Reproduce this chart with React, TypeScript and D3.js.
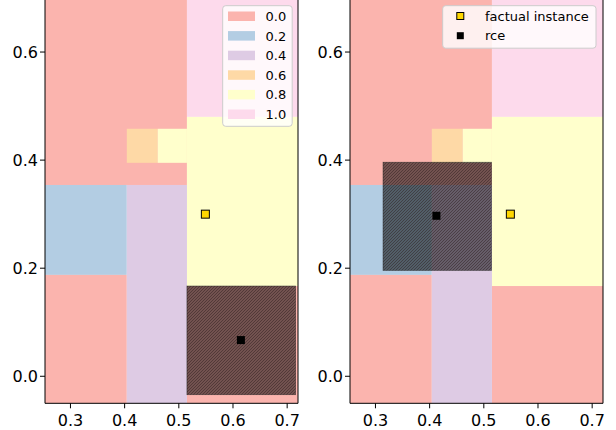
import React from "react";
import * as d3 from "d3";

// Decision regions: [x0, x1, y0, y1, class value]; later ones are drawn on top
const regions: [number, number, number, number, number][] = [
  [0.2, 0.515, 0.354, 0.8, 0.0],
  [0.404, 0.461, 0.395, 0.458, 0.6],
  [0.461, 0.515, 0.395, 0.458, 0.8],
  [0.515, 0.8, 0.48, 0.8, 1.0],
  [0.515, 0.8, 0.167, 0.48, 0.8],
  [0.515, 0.8, -0.1, 0.167, 0.0],
  [0.2, 0.404, 0.1876, 0.354, 0.2],
  [0.2, 0.404, -0.1, 0.1876, 0.0],
  [0.404, 0.515, -0.1, 0.354, 0.4],
];

const classValues = [0.0, 0.2, 0.4, 0.6, 0.8, 1.0];
const classColors = ["#fbb4ae", "#b3cde3", "#decbe4", "#fed9a6", "#ffffcc", "#fddaec"];

const xTicks = [0.3, 0.4, 0.5, 0.6, 0.7];
const yTicks = [0.0, 0.2, 0.4, 0.6];

const factual: [number, number] = [0.549, 0.3];
// panel 1 and panel 2 counterfactual explanations
const rcePoints: [number, number][] = [
  [0.6146, 0.067],
  [0.4125, 0.297],
];
// hatched boxes [x0, x1, y0, y1]
const rceBoxes: [number, number, number, number][] = [
  [0.515, 0.7155, -0.034, 0.167],
  [0.314, 0.514, 0.196, 0.396],
];

const xDomain: [number, number] = [0.253, 0.72];
const yDomain: [number, number] = [-0.05, 0.7];

const FONT = "DejaVu Sans, sans-serif";

function Panel({ left, idx }: { left: number; idx: number }) {
  const width = 253;
  const x = d3.scaleLinear().domain(xDomain).range([left, left + width]);
  const y = d3.scaleLinear().domain(yDomain).range([403.3, -2]);
  const color = d3.scaleOrdinal<number, string>().domain(classValues).range(classColors);
  const clipId = `clip${idx}`;
  const patId = `hatch${idx}`;
  const [bx0, bx1, by0, by1] = rceBoxes[idx];
  const rp = rcePoints[idx];
  const x0 = x(xDomain[0]);
  const x1 = x(xDomain[1]);
  const y0 = y(yDomain[0]);
  const y1 = y(yDomain[1]);
  return (
    <g>
      <defs>
        <clipPath id={clipId}>
          <rect x={x0} y={y1} width={x1 - x0} height={y0 - y1} />
        </clipPath>
        <pattern id={patId} patternUnits="userSpaceOnUse" width={3} height={3}>
          <path d="M-1,1 l2,-2 M0,3 l3,-3 M2,4 l2,-2" stroke="#2a1a1a" strokeWidth={0.9} strokeOpacity={0.5} />
        </pattern>
      </defs>
      <g clipPath={`url(#${clipId})`}>
        {regions.map((r, i) => (
          <rect
            key={i}
            x={x(r[0])}
            y={y(r[3])}
            width={x(r[1]) - x(r[0])}
            height={y(r[2]) - y(r[3])}
            fill={color(r[4])}
          />
        ))}
        <rect
          x={x(bx0)}
          y={y(by1)}
          width={x(bx1) - x(bx0)}
          height={y(by0) - y(by1)}
          fill="#000"
          fillOpacity={0.54}
        />
        <rect
          x={x(bx0)}
          y={y(by1)}
          width={x(bx1) - x(bx0)}
          height={y(by0) - y(by1)}
          fill={`url(#${patId})`}
          stroke="#222"
          strokeOpacity={0.6}
          strokeWidth={0.8}
        />
        <rect x={x(factual[0]) - 4} y={y(factual[1]) - 4} width={8} height={8} fill="#ffd700" stroke="#000" strokeWidth={1} />
        <rect x={x(rp[0]) - 4} y={y(rp[1]) - 4} width={8} height={8} fill="#000" />
      </g>
      {/* spines */}
      <line x1={x0} x2={x0} y1={y1} y2={y0} stroke="#000" strokeWidth={1} />
      <line x1={x1} x2={x1} y1={y1} y2={y0} stroke="#000" strokeWidth={1} />
      <line x1={x0} x2={x1} y1={y0} y2={y0} stroke="#000" strokeWidth={1} />
      {xTicks.map((t) => (
        <g key={t}>
          <line x1={x(t)} x2={x(t)} y1={y0} y2={y0 + 5} stroke="#000" />
          <text x={x(t)} y={y0 + 23} textAnchor="middle" fontSize={16} fontFamily={FONT} fill="#000">
            {t.toFixed(1)}
          </text>
        </g>
      ))}
      {yTicks.map((t) => (
        <g key={t}>
          <line x1={x0 - 5} x2={x0} y1={y(t)} y2={y(t)} stroke="#000" />
          <text x={x0 - 7} y={y(t)} dy="0.36em" textAnchor="end" fontSize={16} fontFamily={FONT} fill="#000">
            {t.toFixed(1)}
          </text>
        </g>
      ))}
      {idx === 0 ? (
        <g>
          <rect x={222.7} y={5.7} width={69.5} height={120.6} rx={3} fill="#fff" fillOpacity={0.8} stroke="#ccc" />
          {classValues.map((v, i) => (
            <g key={v}>
              <rect x={228} y={11.5 + i * 19.6} width={27} height={9.5} fill={color(v)} />
              <text x={265.5} y={16.3 + i * 19.6} dy="0.36em" fontSize={13} fontFamily={FONT} fill="#000">
                {v.toFixed(1)}
              </text>
            </g>
          ))}
        </g>
      ) : (
        <g>
          <rect x={442.7} y={5.7} width={153.3} height={42.5} rx={3} fill="#fff" fillOpacity={0.8} stroke="#ccc" />
          <rect x={456.8} y={12.5} width={7} height={7} fill="#ffd700" stroke="#000" strokeWidth={1} />
          <text x={485} y={16} dy="0.36em" fontSize={13} fontFamily={FONT} fill="#000">factual instance</text>
          <rect x={456.8} y={32.2} width={7} height={7} fill="#000" />
          <text x={485} y={35.7} dy="0.36em" fontSize={13} fontFamily={FONT} fill="#000">rce</text>
        </g>
      )}
    </g>
  );
}

export default function App() {
  return (
    <svg width={616} height={430} style={{ position: "absolute", left: 0, top: 0, background: "#fff" }}>
      <rect width={616} height={430} fill="#fff" />
      <Panel left={45} idx={0} />
      <Panel left={350} idx={1} />
    </svg>
  );
}
